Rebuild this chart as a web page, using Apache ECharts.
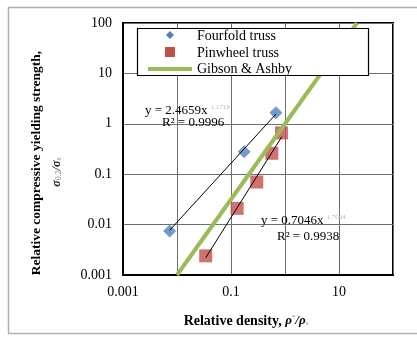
<!DOCTYPE html>
<html><head><meta charset="utf-8">
<script src="https://cdn.jsdelivr.net/npm/echarts@6/dist/echarts.min.js"></script>
<style>html,body{margin:0;padding:0;background:#fff}#c{width:417px;height:337px}</style>
</head><body><div id="c"></div>
<script>
// ---- data ----
const seriesNames = ['Fourfold truss', 'Pinwheel truss', 'Gibson & Ashby'];
const fourfoldX = [0.0073, 0.175, 0.68];
const fourfoldY = [0.0075, 0.28, 1.65];
const pinwheelX = [0.034, 0.13, 0.30, 0.57, 0.86];
const pinwheelY = [0.0024, 0.021, 0.070, 0.26, 0.66];
const fourfoldFitX = [0.0073, 0.68];
const fourfoldFitY = [0.0077, 1.56];
const pinwheelFitX = [0.034, 0.87];
const pinwheelFitY = [0.0022, 0.55];
const gibsonX = [0.01, 21.5];
const gibsonY = [0.001, 100];
const xTickLabels = ['0.001', '0.1', '10'];
const yTickLabels = ['0.001', '0.01', '0.1', '1', '10', '100'];
const fit1 = ['y = 2.4659x', '1.1719', 'R² = 0.9996'];
const fit2 = ['y = 0.7046x', '1.7064', 'R² = 0.9938'];

const zip = (xs, ys) => xs.map((x, i) => [x, ys[i]]);
const SERIF = 'Liberation Serif, Times New Roman, serif';
const BLUE = '#4F81BD', RED = '#C0504D', GREEN = '#9BBB59';

function labelFor(list) {
  return function (v) {
    const s = String(Number(v.toPrecision(6)));
    return list.indexOf(s) >= 0 ? s : '';
  };
}

const chart = echarts.init(document.getElementById('c'), null, { renderer: 'canvas' });
chart.setOption({
  animation: false,
  backgroundColor: '#fff',
  grid: { left: 123, top: 23, width: 270, height: 252, show: true, borderColor: '#000', borderWidth: 2, backgroundColor: 'transparent' },
  xAxis: {
    type: 'log', logBase: 10, min: 0.001, max: 100, splitNumber: 5,
    axisLine: { show: true, lineStyle: { color: '#000', width: 2 } },
    axisTick: { show: false },
    splitLine: { show: true, lineStyle: { color: '#6e6e6e', width: 1 } },
    axisLabel: { margin: 10, color: '#000', fontFamily: SERIF, fontSize: 14, formatter: labelFor(xTickLabels), showMinLabel: true, showMaxLabel: true }
  },
  yAxis: {
    type: 'log', logBase: 10, min: 0.001, max: 100, splitNumber: 5,
    axisLine: { show: true, lineStyle: { color: '#000', width: 2 } },
    axisTick: { show: false },
    splitLine: { show: true, lineStyle: { color: '#6e6e6e', width: 1 } },
    axisLabel: { margin: 11, color: '#000', fontFamily: SERIF, fontSize: 14, formatter: labelFor(yTickLabels), showMinLabel: true, showMaxLabel: true }
  },
  series: [
    { name: seriesNames[0], type: 'scatter', data: zip(fourfoldX, fourfoldY), symbol: 'diamond', symbolSize: 13, z: 2,
      itemStyle: { color: BLUE } },
    { name: seriesNames[1], type: 'scatter', data: zip(pinwheelX, pinwheelY), symbol: 'rect', symbolSize: 13, z: 2,
      itemStyle: { color: RED } },
    { name: seriesNames[2], type: 'line', data: zip(gibsonX, gibsonY), symbol: 'none', z: 3,
      lineStyle: { color: GREEN, width: 4 } },
    { name: 'fit1', type: 'line', data: zip(fourfoldFitX, fourfoldFitY), symbol: 'none', z: 4,
      lineStyle: { color: '#000', width: 1 } },
    { name: 'fit2', type: 'line', data: zip(pinwheelFitX, pinwheelFitY), symbol: 'none', z: 4,
      lineStyle: { color: '#000', width: 1 } }
  ],
  graphic: [
    // outer chart border
    { type: 'rect', z: 0, silent: true, shape: { x: 8.5, y: 7.5, width: 420, height: 326 }, style: { fill: 'none', stroke: '#b0b0b0', lineWidth: 1.5 } },
    // legend
    { type: 'rect', z: 100, shape: { x: 137.5, y: 28.5, width: 231, height: 47 }, style: { fill: '#fff', stroke: '#000', lineWidth: 1.2 } },
    { type: 'polygon', z: 101, shape: { points: [[170, 31], [174, 35], [170, 39], [166, 35]] }, style: { fill: BLUE } },
    { type: 'rect', z: 101, shape: { x: 165, y: 47, width: 10, height: 10 }, style: { fill: RED } },
    { type: 'line', z: 101, shape: { x1: 148, y1: 69, x2: 192, y2: 69 }, style: { stroke: GREEN, lineWidth: 4 } },
    { type: 'text', z: 101, x: 197, y: 36, style: { text: seriesNames[0], font: '14px ' + SERIF, fill: '#000', verticalAlign: 'middle' } },
    { type: 'text', z: 101, x: 197, y: 53, style: { text: seriesNames[1], font: '14px ' + SERIF, fill: '#000', verticalAlign: 'middle' } },
    { type: 'text', z: 101, x: 197, y: 69, style: { text: seriesNames[2], font: '14px ' + SERIF, fill: '#000', verticalAlign: 'middle' } },
    // fit annotations
    { type: 'text', z: 101, x: 145, y: 111, style: { text: '{m|' + fit1[0] + '}{s|' + fit1[1] + '}', verticalAlign: 'middle',
        rich: { m: { font: '13px ' + SERIF, fill: '#000' }, s: { font: '7px ' + SERIF, fill: '#bbb', verticalAlign: 'top', padding: [0, 0, 8, 3] } } } },
    { type: 'text', z: 101, x: 162, y: 123, style: { text: fit1[2], font: '13px ' + SERIF, fill: '#000', verticalAlign: 'middle' } },
    { type: 'text', z: 101, x: 261, y: 221, style: { text: '{m|' + fit2[0] + '}{s|' + fit2[1] + '}', verticalAlign: 'middle',
        rich: { m: { font: '13px ' + SERIF, fill: '#000' }, s: { font: '7px ' + SERIF, fill: '#bbb', verticalAlign: 'top', padding: [0, 0, 8, 3] } } } },
    { type: 'text', z: 101, x: 277, y: 237, style: { text: fit2[2], font: '13px ' + SERIF, fill: '#000', verticalAlign: 'middle' } },
    // axis titles
    { type: 'text', z: 101, x: 37, y: 163, rotation: Math.PI / 2, style: { text: 'Relative compressive yielding strength,', font: 'bold 13.5px ' + SERIF, fill: '#000', align: 'center', verticalAlign: 'middle' } },
    { type: 'text', z: 101, x: 57, y: 172, rotation: Math.PI / 2, style: { text: '{a|σ}{b|0.2}{a|/σ}{b|s}', align: 'center', verticalAlign: 'middle',
        rich: { a: { font: 'bold italic 12px ' + SERIF, fill: '#222' }, b: { font: '8px ' + SERIF, fill: '#888', padding: [4, 0, 0, 0] } } } },
    { type: 'text', z: 101, x: 246, y: 321, style: { text: '{a|Relative density, }{c|ρ}{d|*}{c|/ρ}{b|s}', align: 'center', verticalAlign: 'middle',
        rich: { a: { font: 'bold 14px ' + SERIF, fill: '#000' }, c: { font: 'bold italic 13px ' + SERIF, fill: '#000' }, d: { font: '7px ' + SERIF, fill: '#888', padding: [0, 0, 8, 0] }, b: { font: '7px ' + SERIF, fill: '#888', padding: [5, 0, 0, 0] } } } }
  ]
});
</script>
</body></html>
